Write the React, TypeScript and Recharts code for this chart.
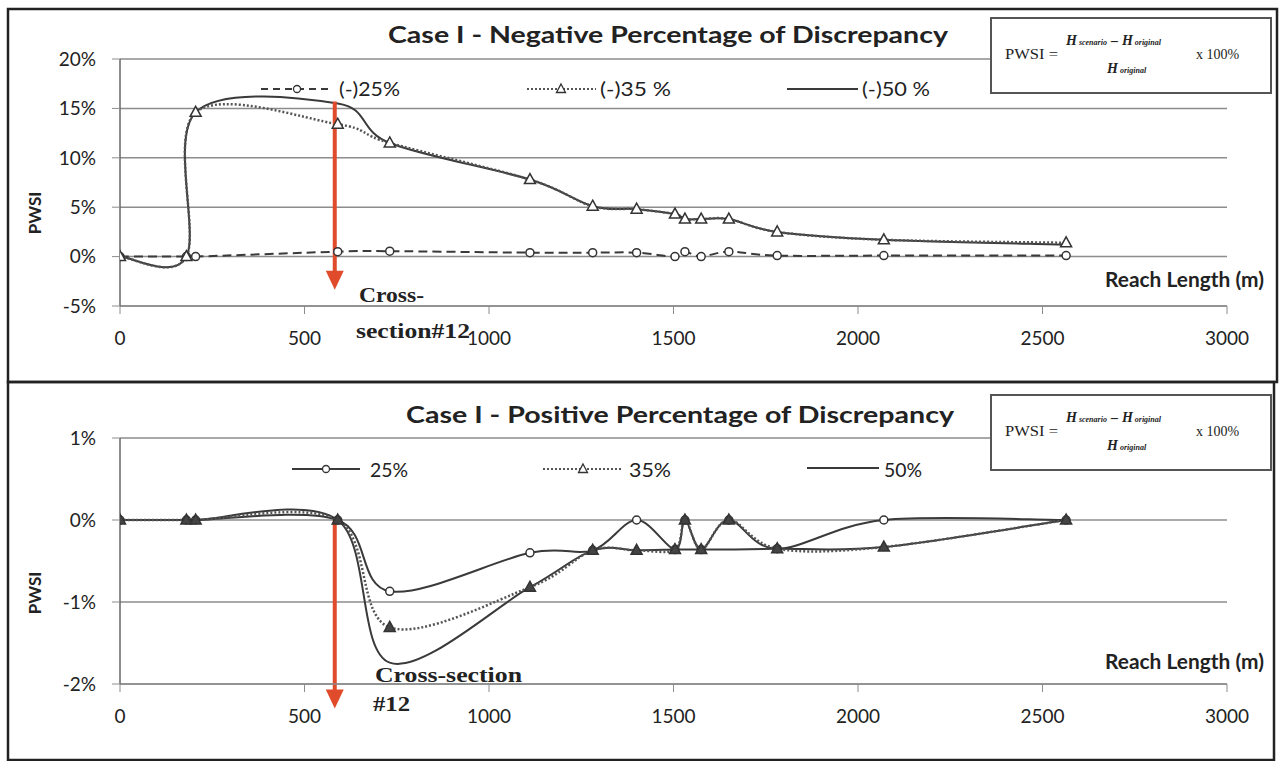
import React from 'react'
import { LineChart, Line, XAxis, YAxis, CartesianGrid, ReferenceLine } from 'recharts'

// reach length of each cross-section (m)
const reachLength = [0, 180, 205, 590, 731, 1111, 1281, 1400, 1504, 1531, 1575, 1650, 1781, 2070, 2564]

// Case I - negative percentage of discrepancy, PWSI (%)
const neg25 = [0, 0, 0, 0.5, 0.55, 0.4, 0.4, 0.4, 0.0, 0.5, 0.0, 0.5, 0.1, 0.1, 0.1]
const neg35 = [0, 0, 14.6, 13.4, 11.5, 7.8, 5.1, 4.8, 4.3, 3.8, 3.8, 3.8, 2.5, 1.7, 1.4]
const neg50 = [0, 0, 14.6, 15.5, 11.5, 7.8, 5.1, 4.8, 4.3, 3.8, 3.8, 3.8, 2.5, 1.7, 1.2]

// Case I - positive percentage of discrepancy, PWSI (%)
const pos25 = [0, 0, 0, 0, -0.87, -0.4, -0.37, 0, -0.36, 0, -0.36, 0, -0.35, 0, 0]
const pos35 = [0, 0, 0, 0, -1.31, -0.82, -0.37, -0.37, -0.36, 0, -0.36, 0, -0.35, -0.33, 0]
const pos50 = [0, 0, 0, 0, -1.74, -0.82, -0.37, -0.37, -0.36, -0.36, -0.36, -0.36, -0.35, -0.33, 0]

const xTicks = [0, 500, 1000, 1500, 2000, 2500, 3000]
const negTicks = [-5, 0, 5, 10, 15, 20]
const posTicks = [-2, -1, 0, 1]

// red arrow at cross-section #12 (x in m, y in %)
const crossSection12 = 582
const negArrow = [15.7, -3.35]
const posArrow = [0, -2.3]

const negData = reachLength.map((x, i) => ({ x, s25: neg25[i], s35: neg35[i], s50: neg50[i] }))
const posData = reachLength.map((x, i) => ({ x, s25: pos25[i], s35: pos35[i], s50: pos50[i] }))

const LINE = '#3a3a3a'
const GRID = '#8c8c8c'
const RED = '#e04b2b'
const SANS = 'Lato, "Open Sans", sans-serif'
const SERIF = '"Liberation Serif", "DejaVu Serif", serif'

// excel style smoothed line (catmull-rom, tangents / 6)
function excelSmooth(context: any) {
  let pts: number[][] = []
  return {
    areaStart() {},
    areaEnd() {},
    lineStart() { pts = [] },
    point(x: number, y: number) { pts.push([+x, +y]) },
    lineEnd() {
      if (!pts.length) return
      context.moveTo(pts[0][0], pts[0][1])
      for (let i = 0; i < pts.length - 1; i++) {
        const p0 = pts[i - 1] || pts[i]
        const p1 = pts[i]
        const p2 = pts[i + 1]
        const p3 = pts[i + 2] || p2
        context.bezierCurveTo(
          p1[0] + (p2[0] - p0[0]) / 6, p1[1] + (p2[1] - p0[1]) / 6,
          p2[0] - (p3[0] - p1[0]) / 6, p2[1] - (p3[1] - p1[1]) / 6,
          p2[0], p2[1],
        )
      }
    },
  }
}

const circleDot = (p: any) => {
  if (p.cx == null || p.cy == null) return <g key={p.index} />
  return <circle key={p.index} cx={p.cx} cy={p.cy} r={4} fill="#fff" stroke="#333" strokeWidth={1.5} />
}

const triangleDot = (fill: string) => (p: any) => {
  if (p.cx == null || p.cy == null) return <g key={p.index} />
  const { cx, cy } = p
  return <path key={p.index} d={`M${cx},${cy - 6} L${cx + 5.5},${cy + 4} L${cx - 5.5},${cy + 4} Z`} fill={fill} stroke="#333" strokeWidth={1.5} />
}

const RedArrow = (p: any) => {
  const x = p.x1
  const top = Math.min(p.y1, p.y2)
  const tip = Math.max(p.y1, p.y2)
  return (
    <g>
      <line x1={x} x2={x} y1={top} y2={tip - 15} stroke={RED} strokeWidth={4} />
      <path d={`M${x - 9},${tip - 19} L${x + 9},${tip - 19} L${x},${tip} Z`} fill={RED} />
    </g>
  )
}

const tickFont = { fontSize: 19, fill: '#222', fontFamily: SANS }

function PwsiChart({ data, height, margin, domain, ticks, solid25, triFill, arrow }: any) {
  return (
    <LineChart width={1284} height={height} data={data} margin={margin}>
      <CartesianGrid vertical={false} stroke={GRID} strokeWidth={1.5} />
      <XAxis dataKey="x" type="number" domain={[0, 3000]} ticks={xTicks} interval={0} height={40}
        tickSize={8} tickMargin={18} axisLine={{ stroke: GRID, strokeWidth: 1.5 }} tickLine={{ stroke: GRID }}
        tick={tickFont} allowDataOverflow />
      <YAxis type="number" domain={domain} ticks={ticks} interval={0} width={120} tickSize={8} tickMargin={16}
        tickFormatter={(v: number) => `${v}%`} axisLine={{ stroke: '#666', strokeWidth: 1.5 }}
        tickLine={{ stroke: GRID }} tick={tickFont} allowDataOverflow />
      <Line dataKey="s50" type={excelSmooth as any} stroke={LINE} strokeWidth={2} dot={false} activeDot={false} isAnimationActive={false} />
      <Line dataKey="s25" type={excelSmooth as any} stroke={LINE} strokeWidth={2} strokeDasharray={solid25 ? undefined : '9 5'}
        dot={circleDot} activeDot={false} isAnimationActive={false} />
      <Line dataKey="s35" type={excelSmooth as any} stroke="#555" strokeWidth={2.5} strokeDasharray="2 2"
        dot={triangleDot(triFill)} activeDot={false} isAnimationActive={false} />
      <ReferenceLine segment={[{ x: crossSection12, y: arrow[0] }, { x: crossSection12, y: arrow[1] }]}
        ifOverflow="visible" shape={RedArrow} />
    </LineChart>
  )
}

function Tri({ x, y, fill }: any) {
  return <path d={`M${x},${y - 5} L${x + 4.5},${y + 3.5} L${x - 4.5},${y + 3.5} Z`} fill={fill} stroke="#333" strokeWidth={1.3} />
}

function Formula({ x, y }: any) {
  // y = top of box
  return (
    <g fontFamily={SERIF} fill="#222">
      <rect x={x} y={y} width={280} height={75} fill="#fff" stroke="#555" strokeWidth={2} />
      <text x={x + 14} y={y + 41} fontSize={14} textLength={53} lengthAdjust="spacingAndGlyphs">PWSI =</text>
      <text x={x + 75} y={y + 27} fontSize={14} fontStyle="italic" fontWeight="bold">
        H<tspan fontSize={8} dx={2}>scenario</tspan><tspan dx={4}>–</tspan><tspan dx={4}>H</tspan><tspan fontSize={8} dx={2}>original</tspan>
      </text>
      <text x={x + 116} y={y + 55} fontSize={14} fontStyle="italic" fontWeight="bold">
        H<tspan fontSize={8} dx={2}>original</tspan>
      </text>
      <text x={x + 205} y={y + 41} fontSize={14}>x 100%</text>
    </g>
  )
}

export default function App() {
  return (
    <div style={{ position: 'absolute', left: 0, top: 0, width: 1284, height: 761, background: '#fff', overflow: 'hidden' }}>
      <div style={{ position: 'absolute', left: 0, top: 0 }}>
        <PwsiChart data={negData} height={380} margin={{ top: 59, right: 57, bottom: 34, left: 0 }}
          domain={[-5, 20]} ticks={negTicks} solid25={false} triFill="#fff" arrow={negArrow} />
      </div>
      <div style={{ position: 'absolute', left: 0, top: 380 }}>
        <PwsiChart data={posData} height={381} margin={{ top: 58, right: 57, bottom: 37, left: 0 }}
          domain={[-2, 1]} ticks={posTicks} solid25 triFill="#444" arrow={posArrow} />
      </div>

      <svg width={1284} height={761} style={{ position: 'absolute', left: 0, top: 0, pointerEvents: 'none' }}>
        {/* panel frames */}
        <rect x={8} y={9} width={1269} height={373} fill="none" stroke="#222" strokeWidth={2.5} />
        <rect x={8} y={382} width={1266} height={378} fill="none" stroke="#222" strokeWidth={2.5} />

        {/* top panel */}
        <text x={388} y={43} fontFamily={SANS} fontWeight="bold" fontSize={23} fill="#222" textLength={560} lengthAdjust="spacingAndGlyphs">
          Case I - Negative Percentage of Discrepancy
        </text>
        <line x1={261} x2={333} y1={89} y2={89} stroke={LINE} strokeWidth={2} strokeDasharray="7 5" />
        <circle cx={297} cy={89} r={3.5} fill="#fff" stroke="#333" strokeWidth={1.3} />
        <text x={339} y={96} fontFamily={SANS} fontSize={19} fill="#222" textLength={61} lengthAdjust="spacingAndGlyphs">(-)25%</text>
        <line x1={527} x2={596} y1={89} y2={89} stroke="#555" strokeWidth={2} strokeDasharray="2 2" />
        <Tri x={561} y={89} fill="#fff" />
        <text x={600} y={96} fontFamily={SANS} fontSize={19} fill="#222" textLength={71} lengthAdjust="spacingAndGlyphs">(-)35 %</text>
        <line x1={787} x2={858} y1={89} y2={89} stroke={LINE} strokeWidth={2} />
        <text x={862} y={96} fontFamily={SANS} fontSize={19} fill="#222" textLength={68} lengthAdjust="spacingAndGlyphs">(-)50 %</text>
        <Formula x={991} y={18} />
        <text transform="translate(41,213) rotate(-90)" textAnchor="middle" fontFamily={SANS} fontWeight="bold" fontSize={17} fill="#222">PWSI</text>
        <text x={1105} y={287} fontFamily={SANS} fontWeight="bold" fontSize={20} fill="#222" textLength={159} lengthAdjust="spacingAndGlyphs">Reach Length (m)</text>
        <text x={359} y={302} fontFamily={SERIF} fontWeight="bold" fontSize={22} fill="#222" textLength={65} lengthAdjust="spacingAndGlyphs">Cross-</text>
        <text x={356} y={338} fontFamily={SERIF} fontWeight="bold" fontSize={22} fill="#222" textLength={114} lengthAdjust="spacingAndGlyphs">section#12</text>

        {/* bottom panel */}
        <text x={406} y={423} fontFamily={SANS} fontWeight="bold" fontSize={23} fill="#222" textLength={548} lengthAdjust="spacingAndGlyphs">
          Case I - Positive Percentage of Discrepancy
        </text>
        <line x1={292} x2={360} y1={469} y2={469} stroke={LINE} strokeWidth={2} />
        <circle cx={326} cy={469} r={3.5} fill="#fff" stroke="#333" strokeWidth={1.3} />
        <text x={370} y={477} fontFamily={SANS} fontSize={19} fill="#222" textLength={38} lengthAdjust="spacingAndGlyphs">25%</text>
        <line x1={543} x2={622} y1={469} y2={469} stroke="#555" strokeWidth={2} strokeDasharray="2 2" />
        <Tri x={583} y={469} fill="#fff" />
        <text x={629} y={477} fontFamily={SANS} fontSize={19} fill="#222" textLength={42} lengthAdjust="spacingAndGlyphs">35%</text>
        <line x1={807} x2={879} y1={468} y2={468} stroke={LINE} strokeWidth={2} />
        <text x={884} y={477} fontFamily={SANS} fontSize={19} fill="#222" textLength={38} lengthAdjust="spacingAndGlyphs">50%</text>
        <Formula x={991} y={395} />
        <text transform="translate(41,593) rotate(-90)" textAnchor="middle" fontFamily={SANS} fontWeight="bold" fontSize={17} fill="#222">PWSI</text>
        <text x={1105} y={669} fontFamily={SANS} fontWeight="bold" fontSize={20} fill="#222" textLength={159} lengthAdjust="spacingAndGlyphs">Reach Length (m)</text>
        <text x={375} y={682} fontFamily={SERIF} fontWeight="bold" fontSize={22} fill="#222" textLength={147} lengthAdjust="spacingAndGlyphs">Cross-section</text>
        <text x={373} y={711} fontFamily={SERIF} fontWeight="bold" fontSize={22} fill="#222" textLength={37} lengthAdjust="spacingAndGlyphs">#12</text>
      </svg>
    </div>
  )
}
